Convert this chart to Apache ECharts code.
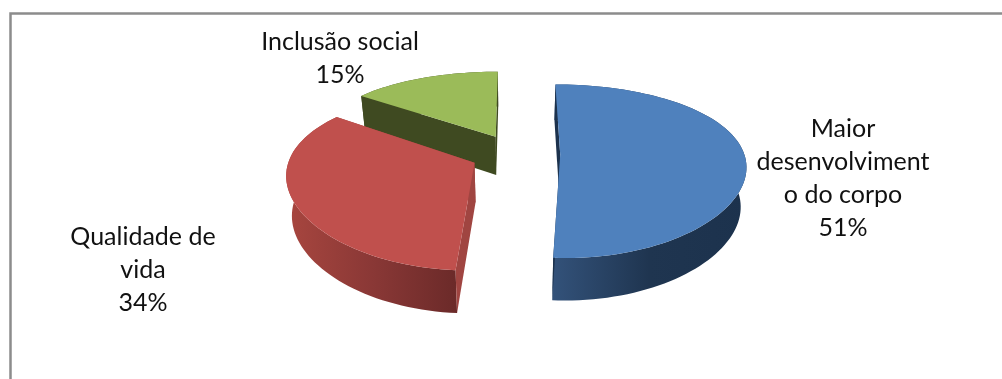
<!DOCTYPE html>
<html>
<head>
<meta charset="utf-8">
<style>html,body{margin:0;padding:0;background:#fff}#chart{width:1002px;height:379px}</style>
<script src="https://cdn.jsdelivr.net/npm/echarts@6/dist/echarts.min.js"></script>
</head>
<body>
<div id="chart"></div>
<script>
// Share of answers per benefit, clockwise from twelve o'clock
const categories = ['Maior\ndesenvolviment\no do corpo', 'Qualidade de\nvida', 'Inclusão social'];
const shares = [51, 34, 15];

const topColors = ['#4f81bd', '#c0504d', '#9bbb59'];
const wallRamps = [['#33527a', '#1f3550', '#1c324d'], ['#a8463f', '#8a3836', '#6b2a29'], ['#3f4a21', '#3f4a21', '#3f4a21']];
const cutColors = ['#1c324d', '#a04541', '#3f4a21'];
const labelAnchors = [[843, 112], [143, 220], [340, 25]];

// Projection of the tilted disc: far edge foreshortened, near edge enlarged
const CX = 515.5, CY = 154, RX = 184, RY = 83.35, PERSP_X = 0.12, PERSP_Y = 0.1907;
const EXPLODE = 0.243, BASE_SCALE = 0.975, ARC_STEP = Math.PI / 90;

function project(x, y, lower) {
  let sx = CX + RX * x / (1 + PERSP_X * y);
  let sy = CY - RY * y / (1 + PERSP_Y * y);
  if (lower) {
    sx = CX + (sx - CX) * BASE_SCALE;
    sy += 39 - 3.5 * y;
  }
  return [sx, sy];
}

function renderSlice(params, api) {
  const i = params.dataIndex;
  const total = shares.reduce((a, b) => a + b, 0);
  const before = shares.slice(0, i).reduce((a, b) => a + b, 0);
  const start = before / total * 2 * Math.PI;
  const end = (before + api.value(0)) / total * 2 * Math.PI;
  const mid = (start + end) / 2;
  const ox = EXPLODE * Math.sin(mid), oy = EXPLODE * Math.cos(mid);

  const rim = lower => {
    const pts = [];
    for (let a = start; a < end; a += ARC_STEP) {
      pts.push(project(ox + Math.sin(a), oy + Math.cos(a), lower));
    }
    pts.push(project(ox + Math.sin(end), oy + Math.cos(end), lower));
    return pts;
  };
  const upper = rim(false), lowerRim = rim(true);
  const apex = project(ox, oy, false), apexLow = project(ox, oy, true);
  const z = shares.length - i;

  const xs = upper.concat(lowerRim).map(p => p[0]);
  const wallFill = new echarts.graphic.LinearGradient(
    Math.min(...xs), 0, Math.max(...xs), 0,
    [
      { offset: 0, color: wallRamps[i][0] },
      { offset: 0.5, color: wallRamps[i][1] },
      { offset: 1, color: wallRamps[i][2] }
    ],
    true
  );
  const poly = (points, fill, order) => ({
    type: 'polygon', z2: z * 10 + order,
    shape: { points }, style: { fill }, silent: true
  });

  const children = [
    poly(upper.concat(lowerRim.slice().reverse()), wallFill, 0),
    poly([apex, upper[0], lowerRim[0], apexLow], cutColors[i], 1),
    poly([apex, upper[upper.length - 1], lowerRim[lowerRim.length - 1], apexLow], cutColors[i], 1),
    poly([apex].concat(upper), api.visual('color'), 2),
    {
      type: 'text', z2: 100,
      x: labelAnchors[i][0], y: labelAnchors[i][1],
      style: {
        text: categories[i] + '\n' + api.value(0) + '%',
        fill: '#111111', align: 'center', verticalAlign: 'top',
        font: '25px Lato, sans-serif', lineHeight: 33
      }
    }
  ];
  return { type: 'group', children };
}

const chart = echarts.init(document.getElementById('chart'), null, { renderer: 'canvas' });
chart.setOption({
  animation: false,
  backgroundColor: '#ffffff',
  graphic: [
    { type: 'polyline', shape: { points: [[10.5, 379], [10.5, 13.5], [1002, 13.5]] },
      style: { stroke: '#8c8c8c', lineWidth: 2.5, fill: null } }
  ],
  series: [{
    type: 'custom',
    coordinateSystem: 'none',
    renderItem: renderSlice,
    data: shares.map((v, i) => ({ name: categories[i], value: [v], itemStyle: { color: topColors[i] } }))
  }]
});
</script>
</body>
</html>
